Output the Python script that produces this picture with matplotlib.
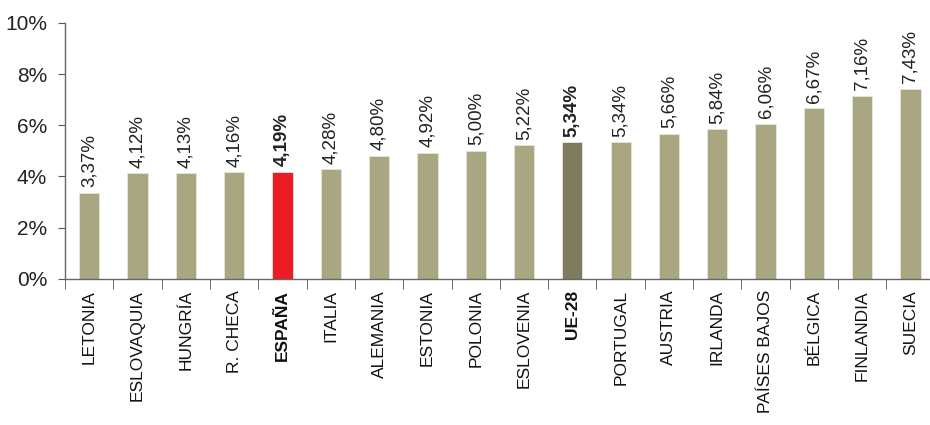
import numpy as np
import matplotlib
matplotlib.use("Agg")
import matplotlib.pyplot as plt
from matplotlib.ticker import FixedLocator, PercentFormatter

plt.rcParams['font.family'] = ['Liberation Sans', 'DejaVu Sans']

paises = ["LETONIA", "ESLOVAQUIA", "HUNGRÍA", "R. CHECA", "ESPAÑA", "ITALIA",
          "ALEMANIA", "ESTONIA", "POLONIA", "ESLOVENIA", "UE-28", "PORTUGAL",
          "AUSTRIA", "IRLANDA", "PAÍSES BAJOS", "BÉLGICA", "FINLANDIA", "SUECIA"]
valores = [3.37, 4.12, 4.13, 4.16, 4.19, 4.28, 4.80, 4.92, 5.00, 5.22, 5.34,
           5.34, 5.66, 5.84, 6.06, 6.67, 7.16, 7.43]
destacados = {"ESPAÑA": "#ec1c24", "UE-28": "#7e7b5f"}
color_base = "#a9a682"

fig = plt.figure(figsize=(9.3, 4.25), dpi=100)
ax = fig.add_axes([0.07, 0.344, 0.935, 0.602])

x = np.arange(len(paises))
colores = [destacados.get(p, color_base) for p in paises]
ax.bar(x, valores, width=0.42, color=colores, edgecolor="#e8e6d8", linewidth=0.6)

# etiquetas de valor en vertical sobre cada barra
for xi, v, p in zip(x, valores, paises):
    negrita = p in destacados
    ax.text(xi, v + 0.22, f"{v:.2f}%".replace(".", ","), rotation=90,
            ha="center", va="bottom", fontsize=13.5,
            fontweight="bold" if negrita else "normal", color="#222222")

ax.set_xlim(-0.5, len(paises) - 0.5)
ax.set_ylim(0, 10)
ax.set_yticks(np.arange(0, 11, 2))
ax.yaxis.set_major_formatter(PercentFormatter(decimals=0))
ax.tick_params(axis="y", labelsize=15, length=5, color="#555555", pad=8,
               labelcolor="#222222")

ax.set_xticks(x)
ax.set_xticklabels(paises, rotation=90, fontsize=12.5, color="#111111")
for lbl, p in zip(ax.get_xticklabels(), paises):
    if p in destacados:
        lbl.set_fontweight("bold")
ax.tick_params(axis="x", length=0, pad=8)
ax.xaxis.set_minor_locator(FixedLocator(np.arange(-0.5, len(paises), 1.0)))
ax.tick_params(axis="x", which="minor", length=7, color="#555555")

for lado in ["top", "right"]:
    ax.spines[lado].set_visible(False)
for lado in ["left", "bottom"]:
    ax.spines[lado].set_color("#666666")
    ax.spines[lado].set_linewidth(1)

fig.savefig("out.png", dpi=100)
